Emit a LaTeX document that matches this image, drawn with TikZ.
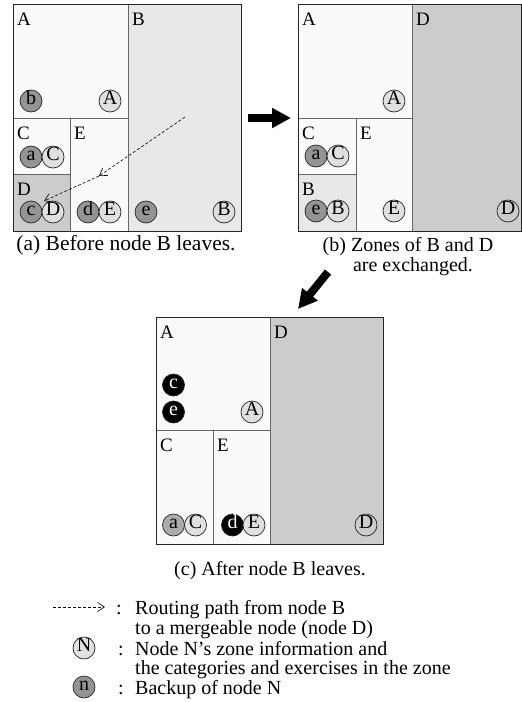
\documentclass[tikz,border=0pt]{standalone}
\usepackage{fontspec}
\setmainfont{Liberation Serif}
\usetikzlibrary{arrows.meta}

\begin{document}
\begin{tikzpicture}[x=1pt,y=-1pt,
  zone/.style={draw=black!60, line width=0.8pt},
  frame/.style={draw=black!85, line width=1pt},
  lbl/.style={anchor=base west, inner sep=0pt, font=\fontsize{19}{19}\selectfont},
  own/.style={circle, draw=black!85, fill=black!12, line width=0.7pt, minimum size=22pt,
    inner sep=0pt, text height=1.45ex, text depth=0.1ex, font=\fontsize{20}{20}\selectfont},
  bak/.style={own, fill=black!42},
  lost/.style={own, fill=black, text=white},
  route/.style={dash pattern=on 3pt off 2pt, line width=0.6pt, -{Straight Barb[length=7pt,width=9pt]}},
  move/.style={line width=8pt, -{Triangle[length=19pt,width=19pt]}},
  capt/.style={anchor=base, inner sep=0pt, font=\fontsize{20}{20}\selectfont},
  txt/.style={anchor=base west, inner sep=0pt, font=\fontsize{20}{20}\selectfont}]
\useasboundingbox (0,0) rectangle (522,702);

% (a) before node B leaves
\filldraw[zone, fill=black!2] (13,4) rectangle (128,118);
\filldraw[zone, fill=black!9] (128,4) rectangle (241,231);
\filldraw[zone, fill=black!2] (13,118) rectangle (70,174);
\filldraw[zone, fill=black!20] (13,174) rectangle (70,231);
\filldraw[zone, fill=black!2] (70,118) rectangle (128,231);
\draw[frame] (13,4) rectangle (241,231);
\node[lbl] (aA) at (17,25) {A};
\node[lbl] (aB) at (132,25) {B};
\node[lbl] (aC) at (17,139) {C};
\node[lbl] (aD) at (17,195) {D};
\node[lbl] (aE) at (74,139) {E};
\node[bak] (ab) at (31,101) {b};
\node[own] (aoA) at (110,101) {A};
\node[bak] (aa) at (31,157) {a};
\node[own] (aoC) at (53,157) {C};
\node[bak] (ac) at (31,212) {c};
\node[own] (aoD) at (53,212) {D};
\node[bak] (ad) at (88,212) {d};
\node[own] (aoE) at (110,212) {E};
\node[bak] (ae) at (146,212) {e};
\node[own] (aoB) at (224,212) {B};
\coordinate (rs) at (185,117);
\coordinate (rm) at (99,176);
\coordinate (re) at (44,201);
\draw[route] (rs) -- (rm);
\draw[route] (rm) -- (re);
\node[capt, font=\fontsize{21.5}{21.5}\selectfont] (capa) at (126,250) {(a) Before node B leaves.};

% (b) zones exchanged
\filldraw[zone, fill=black!2] (298,4) rectangle (412,118);
\filldraw[zone, fill=black!20] (412,4) rectangle (521,231);
\filldraw[zone, fill=black!2] (298,118) rectangle (356,174);
\filldraw[zone, fill=black!9] (298,174) rectangle (356,231);
\filldraw[zone, fill=black!2] (356,118) rectangle (412,231);
\draw[frame] (298,4) rectangle (521,231);
\node[lbl] (bA) at (302,25) {A};
\node[lbl] (bD) at (416,25) {D};
\node[lbl] (bC) at (302,139) {C};
\node[lbl] (bB) at (302,195) {B};
\node[lbl] (bE) at (360,139) {E};
\node[own] (boA) at (394,101) {A};
\node[bak] (ba) at (316,156) {a};
\node[own] (boC) at (338,156) {C};
\node[bak] (be) at (316,211) {e};
\node[own] (boB) at (338,211) {B};
\node[own] (boE) at (394,211) {E};
\node[own, fill=black!20] (boD) at (508,211) {D};
\node[capt] (capb) at (408,251) {(b) Zones of B and D};
\node[capt] (capb2) at (413,271) {are exchanged.};

% arrows between the steps
\coordinate (m1) at (248,118);
\coordinate (m2) at (291,118);
\coordinate (m3) at (328,272);
\coordinate (m4) at (298,309);
\draw[move] (m1) -- (m2);
\draw[move] (m3) -- (m4);

% (c) after node B leaves
\filldraw[zone, fill=black!2] (156,317) rectangle (270,430);
\filldraw[zone, fill=black!20] (270,317) rectangle (383,544);
\filldraw[zone, fill=black!2] (156,430) rectangle (213,544);
\filldraw[zone, fill=black!2] (213,430) rectangle (270,544);
\draw[frame] (156,317) rectangle (383,544);
\node[lbl] (cA) at (160,338) {A};
\node[lbl] (cD) at (274,338) {D};
\node[lbl] (cC) at (160,451) {C};
\node[lbl] (cE) at (217,451) {E};
\node[lost] (cc) at (173.5,385) {c};
\node[lost] (ce) at (173.5,412) {e};
\node[own] (coA) at (252,412) {A};
\node[bak, fill=black!33] (ca) at (173.5,525) {a};
\node[own] (coC) at (195.5,525) {C};
\node[lost] (cd) at (232.5,525) {d};
\node[own] (coE) at (254,525) {E};
\node[own, fill=black!20] (coD) at (366,525) {D};
\node[capt] (capc) at (270,575) {(c) After node B leaves.};

% legend
\coordinate (ls) at (53,607);
\coordinate (le) at (105,607);
\draw[route] (ls) -- (le);
\node[own] (lN) at (84,648) {N};
\node[bak] (ln) at (84,687) {n};
\node[txt] (k1) at (116,614) {:};
\node[txt] (k2) at (118,655) {:};
\node[txt] (k3) at (118,694) {:};
\node[txt] (t1) at (135,614) {Routing path from node B};
\node[txt] (t2) at (135,634) {to a mergeable node (node D)};
\node[txt] (t3) at (135,655) {Node N's zone information and};
\node[txt] (t4) at (135,674) {the categories and exercises in the zone};
\node[txt] (t5) at (135,694) {Backup of node N};
\end{tikzpicture}
\end{document}
